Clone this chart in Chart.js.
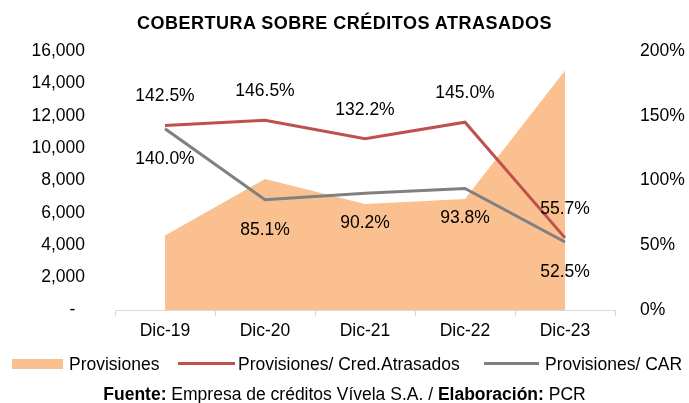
<!DOCTYPE html>
<html>
<head>
<meta charset="utf-8">
<script src="https://cdn.jsdelivr.net/npm/chart.js@4"></script>
<style>
  body { margin: 0; background: #fff; font-family: "Liberation Sans", Arial, sans-serif; }
  #wrap { position: relative; width: 689px; height: 403px; }
  #title { position: absolute; top: 13px; left: 0; width: 689px; text-align: center; font-weight: bold; font-size: 18px; letter-spacing: 0.5px; color: #000; }
  .lg { position: absolute; font-size: 17.5px; color: #000; white-space: nowrap; line-height: 20px; top: 354px; }
  .sw { position: absolute; }
  #source { position: absolute; top: 384px; left: 0; width: 689px; text-align: center; font-size: 17.5px; color: #000; }
</style>
</head>
<body>
<div id="wrap">
  <canvas id="chart" width="689" height="403"></canvas>
  <div id="title">COBERTURA SOBRE CRÉDITOS ATRASADOS</div>
  <div class="sw" style="left:12px;top:359px;width:51px;height:10px;background:#FAC090"></div>
  <div class="lg" style="left:69px">Provisiones</div>
  <div class="sw" style="left:178px;top:362px;width:57px;height:3px;background:#C0504D"></div>
  <div class="lg" style="left:238px">Provisiones/ Cred.Atrasados</div>
  <div class="sw" style="left:484px;top:362px;width:55px;height:3px;background:#808080"></div>
  <div class="lg" style="left:545px">Provisiones/ CAR</div>
  <div id="source"><b>Fuente:</b> Empresa de créditos Vívela S.A. / <b>Elaboración:</b> PCR</div>
</div>
<script>
const categories = ['Dic-19', 'Dic-20', 'Dic-21', 'Dic-22', 'Dic-23'];
const provisiones = [4600, 8100, 6550, 6850, 14800];
const provCredAtrasados = [142.5, 146.5, 132.2, 145.0, 55.7];
const provCar = [140.0, 85.1, 90.2, 93.8, 52.5];

const FONT = '"Liberation Sans", Arial, sans-serif';
const FSIZE = 17.5;

// etiquetas de datos: roja arriba, gris abajo
const dataLabels = {
  id: 'dataLabels',
  afterDatasetsDraw(chart) {
    const ctx = chart.ctx;
    ctx.save();
    ctx.font = FSIZE + 'px ' + FONT;
    ctx.fillStyle = '#000';
    ctx.textAlign = 'center';
    ctx.textBaseline = 'middle';
    chart.data.datasets.forEach((ds, i) => {
      if (!ds.labelOffset) return;
      chart.getDatasetMeta(i).data.forEach((pt, j) => {
        ctx.fillText(ds.data[j].toFixed(1) + '%', pt.x, pt.y + ds.labelOffset);
      });
    });
    ctx.restore();
  }
};

new Chart(document.getElementById('chart'), {
  type: 'line',
  data: {
    labels: categories,
    datasets: [{
      label: 'Provisiones',
      data: provisiones,
      yAxisID: 'y',
      fill: 'origin',
      backgroundColor: '#FAC090',
      borderWidth: 0,
      pointRadius: 0,
      order: 3
    }, {
      label: 'Provisiones/ Cred.Atrasados',
      data: provCredAtrasados,
      yAxisID: 'y1',
      borderColor: '#C0504D',
      borderWidth: 3,
      pointRadius: 0,
      fill: false,
      labelOffset: -29,
      order: 1
    }, {
      label: 'Provisiones/ CAR',
      data: provCar,
      yAxisID: 'y1',
      borderColor: '#808080',
      borderWidth: 3,
      pointRadius: 0,
      fill: false,
      labelOffset: 30,
      order: 2
    }]
  },
  options: {
    responsive: false,
    animation: false,
    layout: { padding: { top: 51, bottom: 0, left: 0, right: 0 } },
    elements: { line: { tension: 0 } },
    plugins: {
      legend: { display: false },
      title: { display: false },
      tooltip: { enabled: false }
    },
    scales: {
      x: {
        offset: true,
        grid: { offset: true, drawOnChartArea: false, tickLength: 6, color: '#d9d9d9' },
        border: { color: '#d9d9d9', width: 1 },
        ticks: { font: { size: FSIZE, family: FONT }, color: '#000', padding: 5, maxRotation: 0 },
        afterFit(axis) { axis.height = 93; }
      },
      y: {
        position: 'left',
        min: 0, max: 16000,
        grid: { display: false },
        border: { display: false },
        ticks: {
          stepSize: 2000,
          font: { size: FSIZE, family: FONT }, color: '#000', padding: 22,
          callback: v => v === 0 ? '-  ' : v.toLocaleString('en-US')
        },
        afterFit(axis) { axis.width = 115; }
      },
      y1: {
        position: 'right',
        min: 0, max: 200,
        grid: { display: false },
        border: { display: false },
        ticks: {
          stepSize: 50,
          font: { size: FSIZE, family: FONT }, color: '#000', padding: 17,
          callback: v => v + '%'
        },
        afterFit(axis) { axis.width = 74; }
      }
    }
  },
  plugins: [dataLabels]
});
</script>
</body>
</html>
